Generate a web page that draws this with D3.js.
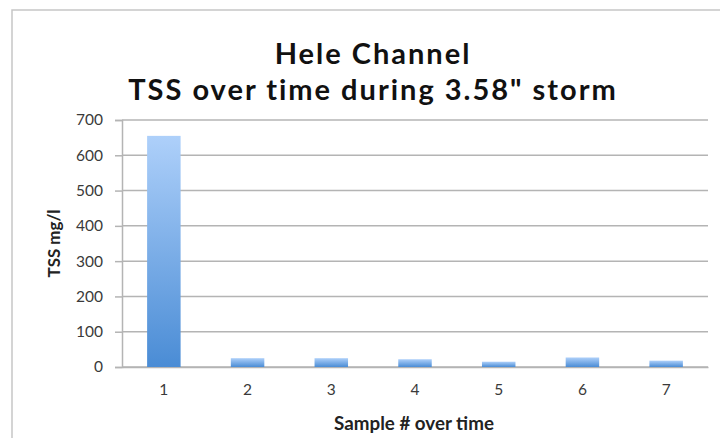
<!DOCTYPE html>
<html>
<head>
<meta charset="utf-8">
<script src="https://cdn.jsdelivr.net/npm/d3@7"></script>
<style>
  html, body { margin: 0; padding: 0; background: #fff; }
  svg { display: block; }
</style>
</head>
<body>
<svg id="chart" width="720" height="438"></svg>
<script>
// Total suspended solids per sample, Hele Channel storm event
const samples = ["1", "2", "3", "4", "5", "6", "7"];
const tssValues = [655, 25, 25, 22, 15, 27, 18];
const yTicks = [0, 100, 200, 300, 400, 500, 600, 700];
const titleLines = ["Hele Channel", "TSS over time during 3.58\" storm"];
const xTitle = "Sample # over time";
const yTitle = "TSS mg/l";

const svg = d3.select("#chart");
const W = 720, H = 438;
const plot = { left: 122, right: 708, top: 120, bottom: 367 };
const FONT = "Lato, 'Open Sans', sans-serif";

// Scale a text element's font so it spans the given width
function fitWidth(sel, width) {
  sel.each(function () {
    const base = parseFloat(this.style.fontSize);
    const w = this.getComputedTextLength();
    if (w > 0) this.style.fontSize = (base * width / w) + "px";
  });
}

// Widen a text element via letter spacing so it spans the given width
function spreadTo(sel, width) {
  let spacing = 0;
  sel.each(function () {
    const w = this.getComputedTextLength();
    const n = this.textContent.length;
    spacing = (width - w) / n;
    this.style.letterSpacing = spacing + "px";
  });
  return spacing;
}

// Chart frame
svg.append("rect")
  .attr("x", 12).attr("y", 10)
  .attr("width", W).attr("height", H)
  .attr("fill", "#fff")
  .attr("stroke", "#c6c6c6").attr("stroke-width", 1.5);

const x = d3.scaleBand()
  .domain(samples)
  .range([plot.left, plot.right])
  .paddingInner(0.6).paddingOuter(0.3);

const y = d3.scaleLinear()
  .domain([0, 700])
  .range([plot.bottom, plot.top]);

// Bar gradient (light at top, deeper blue at base)
const defs = svg.append("defs");
const grad = defs.append("linearGradient")
  .attr("id", "barGrad")
  .attr("x1", 0).attr("y1", 0).attr("x2", 0).attr("y2", 1);
grad.append("stop").attr("offset", "0%").attr("stop-color", "#aed0fa");
grad.append("stop").attr("offset", "100%").attr("stop-color", "#4a8cd5");

// Horizontal gridlines
svg.append("g")
  .selectAll("line")
  .data(yTicks)
  .join("line")
  .attr("x1", plot.left).attr("x2", plot.right)
  .attr("y1", d => y(d)).attr("y2", d => y(d))
  .attr("stroke", "#b4b4b4").attr("stroke-width", 1.5);

// Y axis
const yAxis = svg.append("g")
  .attr("transform", `translate(${plot.left},0)`)
  .call(d3.axisLeft(y).tickValues(yTicks).tickSize(7).tickPadding(12).tickFormat(d3.format("d")));
yAxis.select(".domain").attr("stroke", "#b4b4b4").attr("stroke-width", 1.5);
yAxis.selectAll(".tick line").attr("stroke", "#b4b4b4").attr("stroke-width", 1.5);
yAxis.selectAll(".tick text")
  .attr("fill", "#3a3a3a")
  .style("font-family", FONT)
  .style("font-size", "15.5px");

// X axis
const xAxis = svg.append("g")
  .attr("transform", `translate(0,${plot.bottom})`)
  .call(d3.axisBottom(x).tickSize(0).tickPadding(17));
xAxis.select(".domain").attr("stroke", "#b4b4b4").attr("stroke-width", 1.5);
xAxis.selectAll(".tick text")
  .attr("fill", "#3a3a3a")
  .style("font-family", FONT)
  .style("font-size", "15.5px");

// Bars
svg.append("g")
  .selectAll("rect")
  .data(tssValues)
  .join("rect")
  .attr("x", (d, i) => x(samples[i]))
  .attr("y", d => y(d))
  .attr("width", x.bandwidth())
  .attr("height", d => y(0) - y(d))
  .attr("fill", "url(#barGrad)");

// Title (two lines, second line sets the tracking for both)
const titles = svg.append("g")
  .selectAll("text")
  .data(titleLines)
  .join("text")
  .attr("x", 373)
  .attr("y", (d, i) => 64 + i * 36)
  .attr("text-anchor", "middle")
  .attr("fill", "#111")
  .style("font-family", FONT)
  .style("font-weight", "700")
  .style("font-size", "29px")
  .text(d => d);
const track = spreadTo(titles.filter((d, i) => i === 1), 490);
titles.filter((d, i) => i === 0).style("letter-spacing", track + "px");

// Axis titles
svg.append("text")
  .attr("x", 414)
  .attr("y", 430)
  .attr("text-anchor", "middle")
  .attr("fill", "#222")
  .style("font-family", FONT)
  .style("font-weight", "700")
  .style("font-size", "14px")
  .text(xTitle)
  .call(fitWidth, 160);

svg.append("text")
  .attr("transform", `translate(60,${(plot.top + plot.bottom) / 2}) rotate(-90)`)
  .attr("text-anchor", "middle")
  .attr("fill", "#222")
  .style("font-family", FONT)
  .style("font-weight", "700")
  .style("font-size", "13px")
  .text(yTitle)
  .call(fitWidth, 68);
</script>
</body>
</html>
